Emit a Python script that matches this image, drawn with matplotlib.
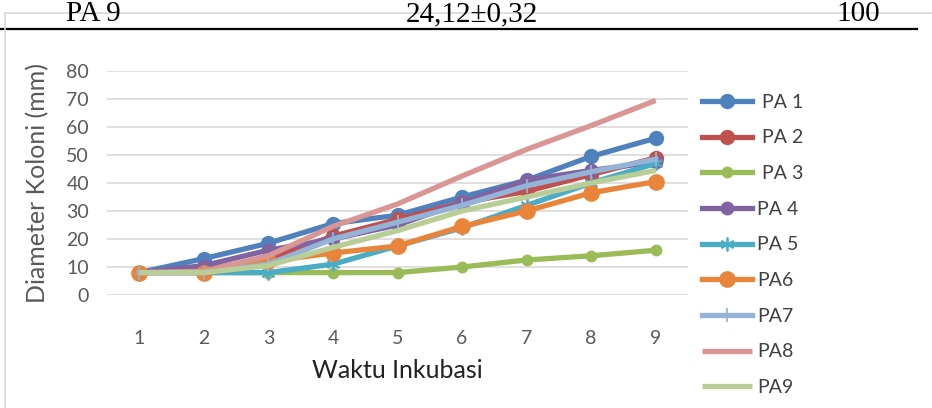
import numpy as np
import matplotlib.pyplot as plt
from matplotlib.lines import Line2D

days = [1, 2, 3, 4, 5, 6, 7, 8, 9]
pa1 = [8, 13, 18.5, 25.5, 28.5, 35, 41, 49.5, 56]
pa2 = [8, 9, 13, 21, 27, 33, 37, 43, 49]
pa3 = [8, 8, 8, 8, 8, 10, 12.5, 14, 16]
pa4 = [8, 10.5, 16, 20, 25, 33, 41, 44.5, 47.5]
pa5 = [8, 8, 8, 11, 17.5, 24, 32, 40, 47]
pa6 = [8, 8, 12, 15, 17.5, 24.5, 30, 36.5, 40.5]
pa7 = [8, 8, 11, 20, 26, 32, 39, 44, 48.5]
pa8 = [8, 8.5, 14, 24.5, 32.5, 42.5, 52, 60.5, 69.5]
pa9 = [8, 8, 10.5, 17, 23, 30, 35, 40, 44.5]

labels = [' PA 1', ' PA 2', ' PA 3', 'PA 4', 'PA 5', 'PA6', 'PA7', 'PA8', 'PA9']
series = [pa1, pa2, pa3, pa4, pa5, pa6, pa7, pa8, pa9]
colors = ['#4F81BD', '#C0504D', '#9BBB59', '#8064A2', '#4BACC6',
          '#E8853A', '#95B3D7', '#D99694', '#B9CD96']
markers = ['o', 'o', 'o', 'o', (6, 2, 0), 'o', '|', None, None]
msizes = [10, 10, 7.5, 9, 10, 11, 10, 0, 0]

plt.rcParams['font.family'] = ['Lato', 'DejaVu Sans']

fig = plt.figure(figsize=(9.32, 4.08), dpi=100)
W, H = 932, 408

# piece of the table above the chart
for txt, xp in [('PA 9', 93), ('24,12\u00b10,32', 472), ('100', 858)]:
    fig.text(xp / W, 1 - 21 / H, txt, ha='center', va='baseline',
             fontsize=21, family='Liberation Serif', color='black')
fig.add_artist(Line2D([0, 917 / W], [1 - 28.5 / H] * 2, color='black', lw=1.6))
# chart frame
fig.add_artist(Line2D([5 / W, 5 / W], [0, 1 - 13 / H], color='#D9D9D9', lw=1.2))
fig.add_artist(Line2D([5 / W, 1], [1 - 13 / H] * 2, color='#D9D9D9', lw=1.2))

ax = fig.add_axes([107 / W, 1 - 295 / H, (688 - 107) / W, (295 - 71) / H])
ax.set_xlim(0.5, 9.5)
ax.set_ylim(0, 80)
ax.set_yticks(np.arange(0, 81, 10))
ax.set_xticks(days)
ax.grid(axis='y', color='#D9D9D9', lw=1.2)
ax.set_axisbelow(True)
for s in ax.spines.values():
    s.set_visible(False)
ax.tick_params(length=0, labelsize=14, colors='#595959')
ax.tick_params(axis='y', pad=13)
ax.tick_params(axis='x', pad=25)

for y, lab, c, m, ms in zip(series, labels, colors, markers, msizes):
    if m is None:
        ax.plot(days, y, color=c, lw=3.8, label=lab, solid_capstyle='butt')
    elif m == '|' or m == (6, 2, 0):
        ax.plot(days, y, color=c, lw=3.8, marker=m, ms=ms, mew=1.3,
                mec=c, label=lab)
    else:
        ax.plot(days, y, color=c, lw=3.8, marker=m, ms=ms, mec=c, label=lab)

ax.set_xlabel('Waktu Inkubasi', fontsize=18, color='#222222', labelpad=9)
ax.set_ylabel('Diameter Koloni (mm)', fontsize=18, color='#595959', labelpad=12)

handles, labs = ax.get_legend_handles_labels()
fig.legend(handles, labs, loc='upper left', bbox_to_anchor=(694 / W, 1 - 86 / H),
           frameon=False, fontsize=14, labelcolor='#404040', handlelength=2.6,
           handletextpad=0.25, labelspacing=0.96, borderaxespad=0)

fig.savefig('out.png', dpi=100)
